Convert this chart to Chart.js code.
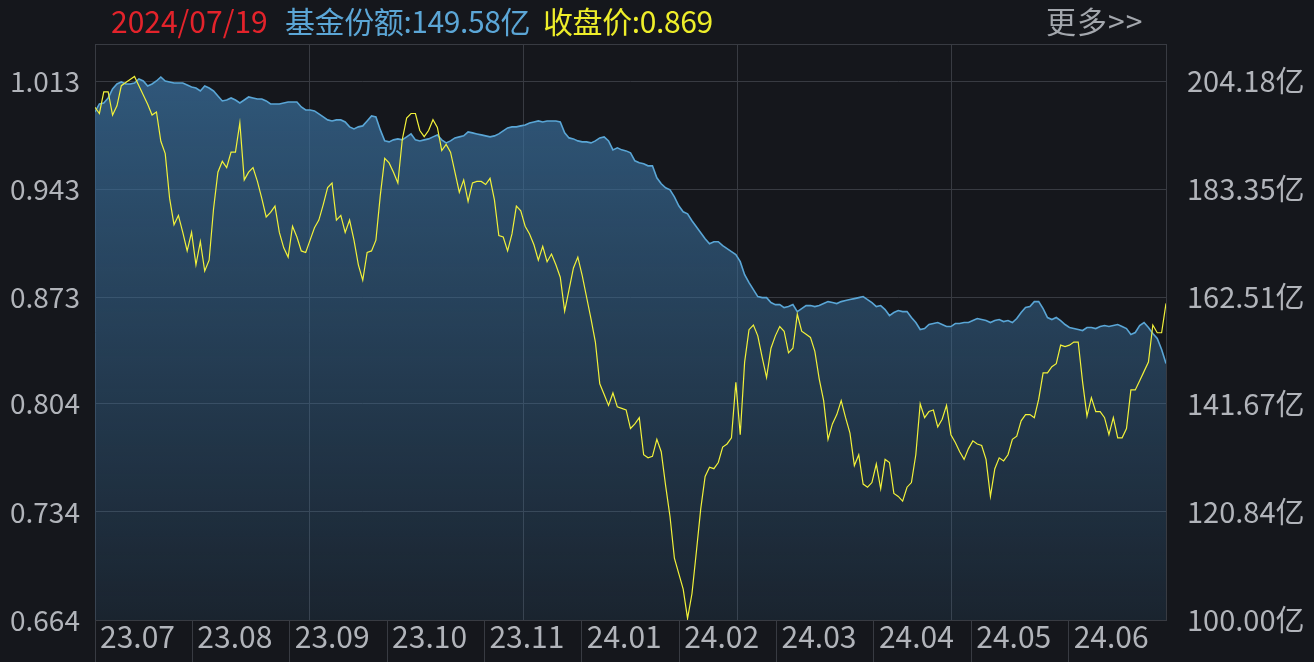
<!DOCTYPE html>
<html>
<head>
<meta charset="utf-8">
<script src="https://cdn.jsdelivr.net/npm/chart.js@4.4.1/dist/chart.umd.min.js"></script>
<style>
  html, body { margin: 0; padding: 0; background: #15171c; }
  #wrap { position: relative; width: 1314px; height: 662px; }
  .hd { position: absolute; top: 1px; font-family: "Noto Sans CJK SC", "Noto Sans", sans-serif; font-size: 30px; line-height: 38px; white-space: nowrap; }
</style>
</head>
<body>
<div id="wrap">
  <canvas id="fundChart" width="1314" height="662"></canvas>
  <div class="hd" id="hdDate" style="left:111px;color:#e3232b;"></div>
  <div class="hd" id="hdShare" style="left:285px;color:#5ba6d6;letter-spacing:-0.4px;"></div>
  <div class="hd" id="hdPrice" style="left:543px;color:#eeee2a;letter-spacing:-0.4px;"></div>
  <div class="hd" style="left:1046px;color:#a3a7ad;letter-spacing:1px;">更多&gt;&gt;</div>
</div>
<script>
// 数据 (每个交易日一个点, 2023/07 - 2024/07/19)
const lastDate = '2024/07/19';

const prices = [
  0.996, 0.992, 1.006, 1.006, 0.991, 0.997, 1.010, 1.012, 1.014, 1.016,
  1.010, 1.004, 0.998, 0.991, 0.993, 0.974, 0.966, 0.937, 0.920, 0.926,
  0.915, 0.903, 0.915, 0.894, 0.909, 0.890, 0.897, 0.930, 0.954, 0.961,
  0.957, 0.967, 0.967, 0.986, 0.949, 0.954, 0.957, 0.948, 0.937, 0.925,
  0.928, 0.932, 0.915, 0.905, 0.899, 0.919, 0.912, 0.903, 0.902, 0.910,
  0.918, 0.923, 0.933, 0.944, 0.947, 0.923, 0.926, 0.915, 0.923, 0.910,
  0.894, 0.884, 0.902, 0.903, 0.910, 0.939, 0.963, 0.960, 0.954, 0.947,
  0.975, 0.989, 0.992, 0.992, 0.981, 0.977, 0.981, 0.988, 0.983, 0.968,
  0.972, 0.967, 0.954, 0.941, 0.949, 0.935, 0.947, 0.948, 0.948, 0.946,
  0.950, 0.936, 0.913, 0.912, 0.903, 0.914, 0.932, 0.929, 0.919, 0.914,
  0.907, 0.897, 0.906, 0.896, 0.901, 0.894, 0.886, 0.864, 0.878, 0.892,
  0.899, 0.887, 0.873, 0.859, 0.844, 0.817, 0.810, 0.803, 0.811, 0.802,
  0.801, 0.800, 0.788, 0.791, 0.795, 0.771, 0.769, 0.770, 0.781, 0.773,
  0.751, 0.731, 0.704, 0.694, 0.684, 0.665, 0.681, 0.708, 0.736, 0.757,
  0.763, 0.762, 0.766, 0.776, 0.778, 0.782, 0.818, 0.784, 0.831, 0.852,
  0.855, 0.848, 0.834, 0.821, 0.840, 0.848, 0.854, 0.851, 0.837, 0.840,
  0.862, 0.851, 0.849, 0.847, 0.838, 0.820, 0.806, 0.781, 0.791, 0.797,
  0.806, 0.795, 0.785, 0.764, 0.771, 0.752, 0.750, 0.753, 0.765, 0.749,
  0.768, 0.766, 0.746, 0.744, 0.741, 0.750, 0.753, 0.771, 0.804, 0.795,
  0.799, 0.800, 0.789, 0.794, 0.803, 0.784, 0.779, 0.773, 0.768, 0.775,
  0.780, 0.778, 0.777, 0.768, 0.744, 0.762, 0.769, 0.767, 0.771, 0.781,
  0.783, 0.793, 0.797, 0.797, 0.795, 0.807, 0.824, 0.824, 0.828, 0.830,
  0.842, 0.841, 0.842, 0.844, 0.844, 0.818, 0.796, 0.808, 0.799, 0.799,
  0.795, 0.784, 0.795, 0.782, 0.782, 0.788, 0.813, 0.813, 0.819, 0.825,
  0.831, 0.855, 0.850, 0.850, 0.869
];

// 基金份额 (亿)
const shares = [
  198.20, 199.74, 199.94, 200.90, 202.64, 203.60, 203.99, 203.60, 203.60, 203.79,
  204.57, 204.18, 203.22, 203.60, 204.18, 204.95, 204.18, 203.99, 203.79, 203.79,
  203.79, 203.41, 203.02, 202.83, 202.25, 203.22, 202.83, 202.25, 201.29, 200.32,
  200.51, 200.90, 200.51, 199.94, 200.51, 201.09, 200.90, 200.71, 200.71, 200.32,
  199.74, 199.74, 199.74, 199.94, 200.13, 200.13, 200.13, 199.16, 198.58, 198.58,
  198.39, 197.81, 197.23, 196.66, 196.46, 196.66, 196.66, 196.27, 195.31, 194.92,
  195.31, 195.50, 196.46, 197.43, 197.23, 194.73, 192.60, 192.41, 192.80, 192.99,
  192.80, 193.38, 193.95, 192.80, 192.60, 192.80, 192.99, 193.38, 193.76, 192.80,
  192.22, 192.60, 193.18, 193.38, 193.57, 194.34, 194.15, 193.95, 193.76, 193.57,
  193.38, 193.57, 193.95, 194.53, 195.11, 195.31, 195.31, 195.50, 195.69, 196.08,
  196.27, 196.46, 196.27, 196.46, 196.46, 196.46, 196.27, 194.15, 193.18, 192.99,
  192.60, 192.41, 192.41, 192.22, 192.60, 193.18, 193.38, 192.60, 190.87, 191.25,
  190.87, 190.67, 190.29, 188.75, 188.36, 188.17, 187.78, 187.78, 185.47, 184.31,
  183.54, 183.15, 181.80, 180.06, 178.91, 178.52, 177.17, 176.01, 174.85, 173.70,
  172.73, 173.12, 173.12, 172.35, 171.77, 171.19, 170.61, 169.26, 166.75, 165.21,
  163.86, 162.51, 162.31, 162.31, 161.35, 160.96, 160.96, 160.39, 160.58, 160.96,
  159.61, 160.19, 160.77, 160.77, 160.58, 160.77, 161.16, 161.54, 161.35, 161.16,
  161.54, 161.74, 161.93, 162.12, 162.31, 162.51, 161.93, 161.35, 160.58, 160.77,
  160.00, 158.84, 159.42, 159.81, 159.61, 159.61, 158.46, 157.49, 156.14, 156.33,
  157.11, 157.30, 157.49, 157.11, 156.72, 156.72, 157.30, 157.30, 157.49, 157.49,
  157.88, 158.26, 158.07, 157.88, 157.49, 157.88, 158.07, 157.68, 157.88, 157.49,
  158.26, 159.42, 160.39, 160.58, 161.54, 161.54, 160.19, 158.46, 158.07, 158.46,
  157.88, 157.11, 156.53, 156.33, 156.14, 155.95, 156.53, 156.53, 156.33, 156.72,
  156.91, 156.72, 156.91, 157.11, 156.72, 156.33, 155.18, 155.56, 156.91, 157.49,
  156.53, 155.37, 154.40, 152.28, 149.58
];

// 底部月份标签 (等宽格子)
const monthLabels = ['23.07', '23.08', '23.09', '23.10', '23.11', '24.01', '24.02', '24.03', '24.04', '24.05', '24.06'];

// 坐标轴刻度
const priceTicks = [1.013, 0.943, 0.873, 0.804, 0.734, 0.664];
const shareTicks = [204.18, 183.35, 162.51, 141.67, 120.84, 100.00];

const N = prices.length;
const days = prices.map((_, i) => i);

const gridColor = '#383b42';
const textColor = '#b1b4ba';
const fontFamily = '"Noto Sans CJK SC", "Noto Sans", sans-serif';

document.getElementById('hdDate').textContent = lastDate;
document.getElementById('hdShare').textContent = '基金份额:' + shares[N - 1].toFixed(2) + '亿';
document.getElementById('hdPrice').textContent = '收盘价:' + prices[N - 1].toFixed(3);

function areaFill(context) {
    const { ctx, chartArea } = context.chart;
    if (!chartArea) return null;
    const g = ctx.createLinearGradient(0, chartArea.top, 0, chartArea.bottom);
    g.addColorStop(0, 'rgba(58,112,158,0.76)');
    g.addColorStop(1, 'rgba(58,112,158,0.15)');
    return g;
}

const ctx = document.getElementById('fundChart').getContext('2d');
new Chart(ctx, {
    type: 'line',
    data: {
        labels: days,
        datasets: [
            {
                label: '收盘价',
                data: prices,
                yAxisID: 'y',
                borderColor: '#f2f23a',
                borderWidth: 1.2,
                pointRadius: 0,
                tension: 0,
                fill: false
            },
            {
                label: '基金份额',
                data: shares,
                yAxisID: 'y1',
                borderColor: '#5aa6d6',
                borderWidth: 1.6,
                pointRadius: 0,
                tension: 0,
                fill: 'start',
                backgroundColor: areaFill
            }
        ]
    },
    options: {
        responsive: false,
        animation: false,
        layout: { padding: { top: 44, left: 10, right: 0, bottom: 0 } },
        plugins: { legend: { display: false }, tooltip: { enabled: false } },
        scales: {
            x: {
                type: 'linear',
                position: 'top',
                min: 0,
                max: N - 1,
                afterBuildTicks: s => { s.ticks = [0, 1, 2, 3, 4, 5].map(k => ({ value: (N - 1) * k / 5 })); },
                afterFit: s => { s.height = 0; },
                ticks: { display: false },
                grid: { color: gridColor, drawTicks: false },
                border: { display: true, color: gridColor }
            },
            xm: {
                type: 'linear',
                position: 'bottom',
                min: 0,
                max: monthLabels.length,
                afterBuildTicks: s => { s.ticks = monthLabels.map((_, i) => ({ value: i })); },
                afterFit: s => { s.height = 42; },
                ticks: {
                    autoSkip: false,
                    maxRotation: 0,
                    minRotation: 0,
                    align: 'start',
                    labelOffset: 5,
                    padding: -43,
                    color: textColor,
                    font: { family: fontFamily, size: 30 },
                    callback: (v, i) => monthLabels[i]
                },
                grid: { drawOnChartArea: false, drawTicks: true, tickLength: 42, color: gridColor },
                border: { display: true, color: gridColor }
            },
            y: {
                position: 'left',
                min: 0.664,
                max: 1.037,
                afterBuildTicks: s => { s.ticks = priceTicks.map(v => ({ value: v })); },
                afterFit: s => { s.width = 85; },
                ticks: {
                    crossAlign: 'far',
                    color: textColor,
                    font: { family: fontFamily, size: 28 },
                    callback: v => v.toFixed(3)
                },
                grid: { color: gridColor, drawTicks: false },
                border: { display: false }
            },
            y1: {
                position: 'right',
                min: 100,
                max: 211.33,
                afterBuildTicks: s => { s.ticks = shareTicks.map(v => ({ value: v })); },
                afterFit: s => { s.width = 148; },
                ticks: {
                    padding: 21,
                    color: textColor,
                    font: { family: fontFamily, size: 29 },
                    callback: v => v.toFixed(2) + '亿'
                },
                grid: { drawOnChartArea: false, drawTicks: false },
                border: { display: false }
            }
        }
    }
});
</script>
</body>
</html>
